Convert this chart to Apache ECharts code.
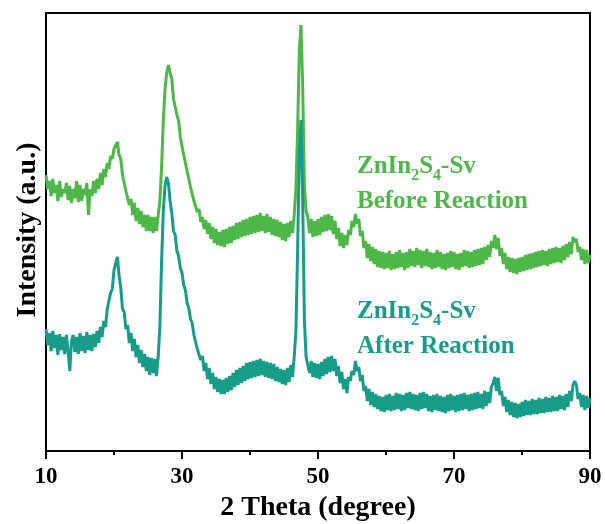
<!DOCTYPE html>
<html>
<head>
<meta charset="utf-8">
<script src="https://cdn.jsdelivr.net/npm/echarts@6/dist/echarts.min.js"></script>
<style>
  html, body { margin: 0; padding: 0; background: #fff; }
  #chart { width: 605px; height: 524px; }
</style>
</head>
<body>
<div id="chart"></div>
<script>
// XRD patterns of ZnIn2S4-Sv, sampled every 0.25 degree from 10 to 90 (2 theta).
// Each row holds the four readings of one degree (x.00, x.25, x.50, x.75).
const thetaStart = 10;
const thetaStep = 0.25;
const xTicks = [10, 30, 50, 70, 90];

const beforeReaction = [
  276, 262, 270, 255,  // 10
  272, 258, 266, 250,  // 11
  270, 254, 262, 258,  // 12
  268, 251, 265, 248,  // 13
  262, 253, 270, 249,  // 14
  266, 250, 262, 256,  // 15
  268, 236, 262, 255,  // 16
  270, 258, 272, 262,  // 17
  278, 266, 282, 274,  // 18
  288, 282, 295, 292,  // 19
  302, 300, 309, 296,  // 20
  292, 276, 274, 260,  // 21
  262, 246, 252, 236,  // 22
  248, 230, 243, 227,  // 23
  240, 224, 236, 220,  // 24
  236, 220, 234, 218,  // 25
  234, 220, 236, 250,  // 26
  285, 330, 362, 378,  // 27
  386, 378, 372, 352,  // 28
  352, 336, 330, 314,  // 29
  312, 296, 295, 280,  // 30
  278, 264, 263, 250,  // 31
  252, 239, 242, 229,  // 32
  234, 222, 231, 217,  // 33
  228, 212, 224, 208,  // 34
  222, 206, 219, 205,  // 35
  221, 204, 222, 207,  // 36
  224, 208, 225, 211,  // 37
  228, 212, 229, 214,  // 38
  231, 215, 232, 216,  // 39
  234, 217, 235, 218,  // 40
  236, 219, 238, 220,  // 41
  235, 218, 237, 219,  // 42
  234, 216, 232, 215,  // 43
  231, 214, 229, 211,  // 44
  227, 210, 228, 214,  // 45
  230, 218, 236, 262,  // 46
  320, 400, 426, 365,  // 47
  265, 240, 234, 218,  // 48
  232, 214, 230, 215,  // 49
  232, 216, 234, 219,  // 50
  236, 220, 237, 221,  // 51
  235, 217, 230, 212,  // 52
  223, 205, 218, 203,  // 53
  216, 206, 221, 216,  // 54
  230, 224, 237, 227,  // 55
  232, 215, 220, 203,  // 56
  210, 193, 207, 190,  // 57
  204, 187, 202, 184,  // 58
  200, 183, 199, 182,  // 59
  198, 183, 200, 181,  // 60
  197, 182, 199, 183,  // 61
  201, 184, 198, 181,  // 62
  199, 183, 202, 185,  // 63
  200, 184, 203, 186,  // 64
  201, 183, 200, 185,  // 65
  202, 184, 199, 182,  // 66
  198, 183, 201, 184,  // 67
  199, 182, 197, 181,  // 68
  198, 183, 200, 184,  // 69
  199, 182, 197, 181,  // 70
  198, 184, 201, 185,  // 71
  200, 183, 199, 184,  // 72
  201, 185, 202, 186,  // 73
  203, 187, 204, 191,  // 74
  206, 194, 210, 203,  // 75
  216, 202, 213, 195,  // 76
  203, 187, 198, 182,  // 77
  194, 179, 193, 178,  // 78
  192, 177, 193, 179,  // 79
  194, 180, 196, 181,  // 80
  197, 182, 198, 183,  // 81
  199, 184, 200, 185,  // 82
  201, 186, 200, 185,  // 83
  202, 187, 203, 188,  // 84
  204, 189, 203, 188,  // 85
  205, 191, 207, 194,  // 86
  209, 197, 214, 209,  // 87
  212, 199, 204, 191,  // 88
  202, 187, 201, 188,  // 89
  196                  // 90
];

const afterReaction = [
  122, 106, 118, 100,  // 10
  120, 103, 116,  96,  // 11
  117, 101, 114,  97,  // 12
  116, 100,  80, 110,  // 13
  116,  99, 114,  97,  // 14
  118, 100, 115,  98,  // 15
  119, 101, 116, 100,  // 16
  117, 104, 120, 108,  // 17
  124, 114, 130, 124,  // 18
  142, 140, 158, 162,  // 19
  181, 183, 194, 175,  // 20
  163, 142, 139, 122,  // 21
  126, 108, 118, 100,  // 22
  112,  94, 106,  88,  // 23
  101,  84,  97,  80,  // 24
   94,  76,  93,  78,  // 25
   92,  75,  94, 125,  // 26
  190, 240, 265, 274,  // 27
  268, 250, 238, 220,  // 28
  216, 200, 195, 183,  // 29
  178, 166, 161, 148,  // 30
  143, 132, 128, 116,  // 31
  114, 102, 104,  91,  // 32
   95,  80,  88,  72,  // 33
   83,  67,  78,  62,  // 34
   74,  59,  72,  57,  // 35
   71,  57,  73,  59,  // 36
   75,  61,  78,  64,  // 37
   81,  66,  83,  68,  // 38
   85,  70,  88,  72,  // 39
   89,  73,  90,  74,  // 40
   91,  75,  92,  76,  // 41
   90,  74,  89,  73,  // 42
   88,  72,  87,  70,  // 43
   84,  69,  82,  67,  // 44
   81,  66,  83,  69,  // 45
   86,  74,  94, 120,  // 46
  200, 300, 331, 250,  // 47
  130,  94,  94,  78,  // 48
   90,  74,  88,  73,  // 49
   87,  72,  89,  75,  // 50
   92,  77,  94,  79,  // 51
   95,  80,  92,  75,  // 52
   85,  68,  79,  62,  // 53
   72,  58,  74,  70,  // 54
   80,  76,  90,  80,  // 55
   84,  70,  76,  60,  // 56
   65,  50,  62,  46,  // 57
   59,  44,  57,  42,  // 58
   55,  40,  54,  39,  // 59
   56,  41,  57,  40,  // 60
   55,  41,  58,  42,  // 61
   57,  40,  56,  41,  // 62
   58,  43,  59,  42,  // 63
   57,  41,  56,  40,  // 64
   58,  42,  59,  43,  // 65
   57,  40,  55,  39,  // 66
   56,  41,  57,  40,  // 67
   55,  39,  54,  38,  // 68
   56,  40,  57,  41,  // 69
   55,  39,  56,  40,  // 70
   57,  41,  58,  42,  // 71
   56,  40,  57,  41,  // 72
   58,  42,  59,  43,  // 73
   57,  42,  60,  45,  // 74
   59,  48,  64,  68,  // 75
   74,  60,  73,  56,  // 76
   60,  45,  54,  39,  // 77
   51,  36,  49,  34,  // 78
   48,  33,  47,  34,  // 79
   49,  35,  51,  36,  // 80
   50,  36,  52,  37,  // 81
   51,  37,  53,  38,  // 82
   52,  38,  54,  39,  // 83
   53,  39,  55,  40,  // 84
   54,  40,  56,  42,  // 85
   55,  41,  57,  44,  // 86
   60,  50,  66,  70,  // 87
   66,  52,  58,  44,  // 88
   56,  41,  55,  43,  // 89
   53                   // 90
];

const seriesNames = ['ZnIn2S4-Sv Before Reaction', 'ZnIn2S4-Sv After Reaction'];
const seriesColors = ['#4db748', '#179c87'];

const serif = "'Times New Roman', 'Liberation Serif', serif";

function toPairs(values) {
  return values.map((v, i) => [thetaStart + i * thetaStep, v]);
}

// Sample label with subscripted stoichiometry, drawn as rich text.
function sampleLabel(color, condition) {
  const main = { fontSize: 25, fontWeight: 'bold', fontFamily: serif, fill: color, lineHeight: 35, verticalAlign: 'middle' };
  const sub = { fontSize: 16, fontWeight: 'bold', fontFamily: serif, fill: color, lineHeight: 35, verticalAlign: 'bottom' };
  return {
    text: '{m|ZnIn}{s|2}{m|S}{s|4}{m|-Sv}\n{m|' + condition + '}',
    rich: { m: main, s: sub }
  };
}

const chart = echarts.init(document.getElementById('chart'), null, { renderer: 'canvas' });

chart.setOption({
  animation: false,
  backgroundColor: '#fff',
  grid: {
    left: 46, right: 15, top: 13, bottom: 73,
    outerBoundsMode: 'none',
    containLabel: false,
    show: true, borderColor: '#000', borderWidth: 2, backgroundColor: 'transparent'
  },
  xAxis: {
    type: 'value',
    min: xTicks[0], max: xTicks[xTicks.length - 1], interval: 20,
    name: '2 Theta (degree)',
    nameLocation: 'middle',
    nameGap: 39,
    nameTextStyle: { fontSize: 28, fontWeight: 'bold', fontFamily: serif, color: '#000' },
    axisLine: { show: true, lineStyle: { color: '#000', width: 2 } },
    axisTick: { show: true, length: 8, lineStyle: { color: '#000', width: 2 } },
    minorTick: { show: true, splitNumber: 2, length: 4, lineStyle: { color: '#000', width: 2 } },
    axisLabel: { fontSize: 23, fontWeight: 'bold', fontFamily: serif, color: '#000', margin: 15 },
    splitLine: { show: false }
  },
  yAxis: {
    type: 'value',
    min: 0, max: 438,
    axisLine: { show: true, lineStyle: { color: '#000', width: 2 } },
    axisTick: { show: false },
    axisLabel: { show: false },
    splitLine: { show: false }
  },
  series: [
    {
      name: seriesNames[0], type: 'line', showSymbol: false,
      lineStyle: { color: seriesColors[0], width: 3 },
      data: toPairs(beforeReaction)
    },
    {
      name: seriesNames[1], type: 'line', showSymbol: false,
      lineStyle: { color: seriesColors[1], width: 3 },
      data: toPairs(afterReaction)
    }
  ],
  graphic: [
    {
      type: 'text', x: 28, y: 230, rotation: Math.PI / 2,
      style: {
        text: 'Intensity (a.u.)', fontSize: 28, fontWeight: 'bold', fontFamily: serif,
        fill: '#000', align: 'center', verticalAlign: 'middle'
      }
    },
    { type: 'text', left: 357, top: 154, style: sampleLabel(seriesColors[0], 'Before Reaction') },
    { type: 'text', left: 357, top: 299, style: sampleLabel(seriesColors[1], 'After Reaction') }
  ]
});
</script>
</body>
</html>
